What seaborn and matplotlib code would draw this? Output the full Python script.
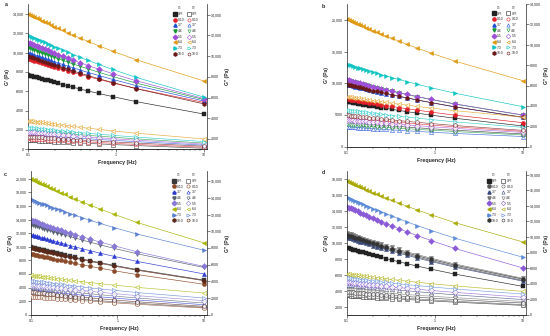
import matplotlib
matplotlib.use("Agg")
import matplotlib.pyplot as plt
import seaborn as sns
from matplotlib.lines import Line2D
from matplotlib.ticker import FixedLocator, FuncFormatter, LogLocator, NullFormatter

sns.set_theme(style="ticks")
plt.rcParams['font.family'] = ['Liberation Sans', 'DejaVu Sans']

# frequency sweep (Hz)
freq = [0.1, 0.105, 0.111, 0.117, 0.125, 0.133, 0.142, 0.153, 0.166, 0.180, 0.198,
        0.220, 0.246, 0.281, 0.326, 0.388, 0.481, 0.631, 0.917, 1.68, 10.0]

ratios = ["SPI", "0:10", "3:7", "4:6", "5:5", "6:4", "7:3", "10:0"]
markers = ["s", "o", "^", "v", "D", "<", ">", "h"]

colors_ab = ["#222222", "#e3202a", "#1f4fd6", "#169a3a", "#a050d8", "#e0980f", "#0fc4c4", "#6a1818"]
colors_c = ["#3a3a3a", "#8b4a2a", "#2a3ad0", "#55606e", "#8878d8", "#a6b400", "#5a80d0", "#5a2818"]
colors_d = ["#222222", "#555555", "#3a4a7a", "#777777", "#8a5ad8", "#a8a800", "#5a8ad8", "#333333"]

# ---- panel a ----
a_storage = [
    [7690, 7630, 7580, 7510, 7440, 7370, 7300, 7210, 7120, 7030, 6930, 6820, 6700, 6570, 6420, 6240, 6030, 5780, 5450, 4940, 3650],
    [9380, 9320, 9260, 9180, 9100, 9020, 8940, 8850, 8750, 8640, 8520, 8410, 8270, 8120, 7950, 7750, 7520, 7240, 6870, 6300, 4850],
    [10000, 9930, 9870, 9780, 9700, 9610, 9520, 9410, 9300, 9190, 9060, 8930, 8780, 8610, 8430, 8210, 7950, 7640, 7230, 6600, 5000],
    [10520, 10450, 10380, 10280, 10190, 10100, 10000, 9890, 9770, 9650, 9510, 9370, 9200, 9030, 8830, 8590, 8320, 7980, 7540, 6860, 5150],
    [11040, 10960, 10880, 10780, 10690, 10580, 10480, 10360, 10230, 10100, 9950, 9800, 9620, 9430, 9220, 8960, 8670, 8300, 7830, 7100, 5250],
    [14000, 13900, 13810, 13690, 13580, 13450, 13330, 13180, 13030, 12870, 12690, 12510, 12300, 12070, 11820, 11510, 11160, 10720, 10150, 9280, 7070],
    [11830, 11740, 11660, 11540, 11440, 11320, 11210, 11070, 10930, 10780, 10620, 10450, 10260, 10040, 9810, 9520, 9190, 8790, 8260, 7450, 5400],
    [9660, 9590, 9530, 9440, 9360, 9270, 9180, 9080, 8970, 8850, 8720, 8590, 8450, 8280, 8100, 7880, 7630, 7310, 6910, 6280, 4700],
]
a_loss = [
    [1900, 1890, 1880, 1860, 1850, 1840, 1820, 1810, 1790, 1770, 1750, 1730, 1700, 1680, 1650, 1610, 1570, 1520, 1460, 1360, 1100],
    [2060, 2050, 2040, 2020, 2010, 1990, 1980, 1960, 1940, 1920, 1900, 1880, 1850, 1820, 1790, 1750, 1710, 1650, 1580, 1470, 1200],
    [2450, 2440, 2420, 2400, 2390, 2370, 2350, 2330, 2300, 2280, 2250, 2220, 2190, 2160, 2120, 2070, 2020, 1950, 1870, 1740, 1400],
    [2870, 2850, 2840, 2810, 2790, 2770, 2750, 2720, 2690, 2660, 2630, 2600, 2560, 2520, 2470, 2410, 2350, 2270, 2170, 2010, 1600],
    [2680, 2660, 2650, 2630, 2610, 2590, 2570, 2540, 2520, 2490, 2460, 2430, 2390, 2350, 2310, 2260, 2200, 2120, 2030, 1880, 1500],
    [3760, 3740, 3710, 3680, 3650, 3620, 3590, 3550, 3510, 3470, 3430, 3380, 3330, 3270, 3210, 3130, 3040, 2930, 2780, 2560, 2000],
    [3090, 3070, 3050, 3030, 3010, 2980, 2960, 2930, 2900, 2870, 2840, 2800, 2760, 2720, 2670, 2610, 2540, 2460, 2350, 2180, 1750],
    [2230, 2220, 2200, 2190, 2170, 2160, 2140, 2120, 2100, 2080, 2050, 2030, 2000, 1970, 1940, 1900, 1850, 1790, 1710, 1600, 1300],
]

# ---- panel b ----
b_storage = [
    [7100, 7050, 7000, 6930, 6870, 6800, 6730, 6650, 6560, 6480, 6380, 6280, 6160, 6040, 5890, 5730, 5530, 5290, 4970, 4490, 3270],
    [7520, 7470, 7420, 7350, 7290, 7230, 7160, 7080, 7000, 6910, 6820, 6720, 6610, 6480, 6350, 6180, 5990, 5760, 5450, 4980, 3790],
    [9800, 9730, 9660, 9570, 9480, 9390, 9300, 9190, 9080, 8960, 8820, 8690, 8530, 8360, 8170, 7940, 7680, 7350, 6930, 6270, 4620],
    [10480, 10400, 10330, 10230, 10140, 10050, 9950, 9830, 9710, 9580, 9440, 9300, 9130, 8950, 8750, 8510, 8230, 7880, 7430, 6730, 4980],
    [10520, 10440, 10370, 10270, 10180, 10080, 9990, 9870, 9750, 9620, 9480, 9330, 9170, 8990, 8780, 8540, 8260, 7910, 7460, 6760, 5000],
    [20140, 20000, 19880, 19700, 19550, 19370, 19200, 18990, 18780, 18550, 18300, 18050, 17760, 17440, 17080, 16650, 16150, 15540, 14740, 13510, 10410],
    [13000, 12910, 12820, 12700, 12590, 12470, 12350, 12210, 12060, 11910, 11740, 11560, 11360, 11140, 10890, 10600, 10260, 9840, 9290, 8440, 6310],
    [9840, 9770, 9700, 9610, 9520, 9430, 9340, 9230, 9110, 8990, 8860, 8720, 8570, 8390, 8200, 7970, 7710, 7380, 6950, 6300, 4640],
]
b_loss = [
    [2400, 2380, 2370, 2350, 2330, 2310, 2290, 2260, 2240, 2210, 2180, 2150, 2120, 2080, 2040, 1990, 1930, 1860, 1760, 1620, 1250],
    [2900, 2880, 2860, 2840, 2820, 2790, 2760, 2740, 2700, 2670, 2640, 2600, 2560, 2510, 2460, 2400, 2330, 2240, 2120, 1950, 1500],
    [1950, 1940, 1920, 1910, 1890, 1880, 1860, 1840, 1820, 1800, 1770, 1750, 1720, 1690, 1650, 1610, 1560, 1500, 1420, 1300, 1000],
    [2200, 2190, 2170, 2150, 2140, 2120, 2100, 2080, 2050, 2030, 2000, 1970, 1940, 1910, 1870, 1820, 1770, 1700, 1620, 1490, 1150],
    [2650, 2630, 2620, 2590, 2570, 2550, 2530, 2500, 2480, 2450, 2410, 2380, 2340, 2300, 2260, 2200, 2140, 2060, 1960, 1800, 1400],
    [4900, 4870, 4850, 4810, 4780, 4740, 4710, 4660, 4620, 4570, 4520, 4470, 4410, 4340, 4270, 4180, 4080, 3950, 3790, 3540, 2900],
    [3600, 3580, 3550, 3520, 3500, 3470, 3440, 3400, 3360, 3320, 3280, 3230, 3180, 3130, 3060, 2990, 2900, 2800, 2660, 2440, 1900],
    [3100, 3080, 3060, 3030, 3010, 2980, 2950, 2920, 2890, 2860, 2820, 2780, 2730, 2680, 2630, 2560, 2490, 2390, 2270, 2080, 1600],
]

# ---- panel c ----
c_storage = [
    [9950, 9880, 9820, 9730, 9650, 9570, 9480, 9380, 9270, 9160, 9030, 8910, 8760, 8600, 8420, 8210, 7960, 7660, 7260, 6650, 5100],
    [8950, 8890, 8830, 8750, 8680, 8600, 8520, 8420, 8320, 8220, 8110, 7990, 7860, 7710, 7540, 7350, 7120, 6840, 6470, 5910, 4480],
    [11790, 11710, 11630, 11530, 11440, 11330, 11230, 11110, 10980, 10850, 10700, 10550, 10370, 10180, 9970, 9710, 9420, 9050, 8580, 7850, 6000],
    [13270, 13180, 13100, 12990, 12880, 12770, 12660, 12520, 12390, 12240, 12080, 11910, 11720, 11510, 11280, 11000, 10680, 10280, 9760, 8970, 6950],
    [13910, 13820, 13730, 13600, 13500, 13370, 13250, 13110, 12960, 12800, 12620, 12450, 12240, 12020, 11770, 11470, 11120, 10690, 10130, 9270, 7100],
    [20000, 19870, 19750, 19580, 19430, 19260, 19090, 18890, 18680, 18460, 18220, 17970, 17690, 17380, 17030, 16620, 16130, 15540, 14770, 13580, 10570],
    [16950, 16850, 16750, 16610, 16500, 16360, 16230, 16070, 15910, 15730, 15540, 15350, 15120, 14880, 14600, 14270, 13890, 13420, 12810, 11870, 9490],
    [9830, 9760, 9700, 9610, 9540, 9450, 9360, 9260, 9160, 9040, 8920, 8790, 8650, 8490, 8310, 8100, 7850, 7550, 7160, 6550, 5010],
]
c_loss = [
    [2400, 2380, 2360, 2330, 2310, 2280, 2250, 2220, 2190, 2150, 2110, 2070, 2030, 1980, 1920, 1850, 1780, 1680, 1560, 1370, 880],
    [2200, 2180, 2160, 2140, 2120, 2090, 2060, 2040, 2000, 1970, 1940, 1900, 1860, 1810, 1760, 1700, 1630, 1540, 1420, 1250, 800],
    [2990, 2970, 2940, 2910, 2880, 2850, 2820, 2780, 2740, 2700, 2650, 2610, 2550, 2490, 2430, 2350, 2260, 2140, 2000, 1770, 1200],
    [3280, 3250, 3230, 3200, 3170, 3130, 3100, 3060, 3020, 2970, 2930, 2880, 2820, 2760, 2690, 2610, 2510, 2390, 2240, 2000, 1400],
    [3590, 3560, 3540, 3500, 3470, 3440, 3410, 3370, 3320, 3280, 3230, 3180, 3120, 3060, 2990, 2900, 2810, 2690, 2530, 2290, 1680],
    [4720, 4690, 4660, 4630, 4590, 4550, 4510, 4470, 4420, 4370, 4320, 4260, 4200, 4130, 4050, 3960, 3850, 3720, 3540, 3280, 2600],
    [4070, 4040, 4010, 3980, 3940, 3910, 3870, 3830, 3780, 3730, 3680, 3630, 3560, 3500, 3420, 3330, 3220, 3090, 2920, 2660, 2000],
    [2720, 2700, 2670, 2640, 2620, 2580, 2550, 2520, 2480, 2440, 2400, 2350, 2300, 2240, 2180, 2100, 2020, 1910, 1770, 1550, 1000],
]

# ---- panel d ----
d_storage = [
    [9380, 9310, 9250, 9170, 9090, 9000, 8920, 8820, 8710, 8600, 8480, 8350, 8210, 8050, 7870, 7660, 7420, 7120, 6730, 6130, 4600],
    [10850, 10770, 10700, 10600, 10510, 10420, 10320, 10200, 10080, 9950, 9810, 9670, 9500, 9320, 9120, 8880, 8600, 8250, 7800, 7100, 5350],
    [10700, 10620, 10550, 10460, 10370, 10270, 10170, 10060, 9940, 9810, 9670, 9530, 9370, 9190, 8980, 8740, 8470, 8120, 7680, 6990, 5250],
    [11200, 11120, 11050, 10950, 10860, 10760, 10660, 10540, 10420, 10290, 10140, 10000, 9830, 9640, 9440, 9190, 8900, 8550, 8090, 7390, 5600],
    [14510, 14400, 14300, 14170, 14050, 13910, 13770, 13610, 13440, 13270, 13070, 12870, 12640, 12390, 12110, 11770, 11390, 10910, 10280, 9320, 6890],
    [17670, 17560, 17470, 17330, 17210, 17070, 16940, 16780, 16610, 16440, 16240, 16050, 15820, 15570, 15290, 14960, 14570, 14100, 13480, 12530, 10120],
    [15680, 15580, 15480, 15340, 15230, 15090, 14960, 14800, 14640, 14460, 14270, 14080, 13850, 13610, 13330, 13000, 12620, 12150, 11540, 10600, 8220],
    [11000, 10920, 10850, 10750, 10660, 10570, 10470, 10350, 10230, 10100, 9960, 9820, 9650, 9470, 9270, 9030, 8750, 8400, 7950, 7250, 5500],
]
d_loss = [
    [2490, 2470, 2460, 2430, 2410, 2390, 2370, 2340, 2310, 2280, 2250, 2210, 2170, 2130, 2080, 2030, 1960, 1880, 1770, 1610, 1200],
    [2660, 2640, 2620, 2600, 2580, 2550, 2530, 2500, 2470, 2440, 2400, 2370, 2330, 2280, 2230, 2170, 2100, 2020, 1910, 1730, 1300],
    [3860, 3830, 3810, 3770, 3740, 3710, 3680, 3640, 3590, 3550, 3500, 3450, 3390, 3330, 3260, 3170, 3080, 2960, 2800, 2560, 1950],
    [3220, 3200, 3180, 3150, 3130, 3100, 3070, 3040, 3010, 2970, 2930, 2890, 2850, 2800, 2740, 2670, 2600, 2500, 2380, 2190, 1700],
    [4200, 4170, 4150, 4110, 4080, 4050, 4010, 3970, 3930, 3880, 3830, 3780, 3720, 3660, 3590, 3500, 3400, 3280, 3120, 2870, 2250],
    [5230, 5200, 5170, 5130, 5090, 5050, 5010, 4970, 4920, 4870, 4810, 4750, 4680, 4610, 4530, 4430, 4320, 4180, 3990, 3710, 3000],
    [4720, 4690, 4660, 4630, 4590, 4560, 4520, 4480, 4430, 4380, 4330, 4280, 4210, 4150, 4070, 3980, 3870, 3740, 3570, 3310, 2650],
    [2920, 2900, 2880, 2860, 2830, 2810, 2780, 2750, 2720, 2690, 2650, 2620, 2570, 2530, 2470, 2410, 2340, 2250, 2130, 1950, 1500],
]


def num_fmt(v, pos):
    return f"{v:,.0f}" if v >= 10000 else f"{v:.0f}"


def style_axis(ax, ax2, yticks, y2ticks):
    ax.set_xscale("log")
    ax.set_xlim(0.1, 10.8)
    ax.xaxis.set_major_locator(FixedLocator([0.1, 1, 10]))
    ax.xaxis.set_major_formatter(FuncFormatter(lambda v, p: f"{v:g}"))
    ax.xaxis.set_minor_locator(LogLocator(base=10, subs=range(2, 10)))
    ax.xaxis.set_minor_formatter(NullFormatter())
    ax.yaxis.set_major_locator(FixedLocator(yticks))
    ax.yaxis.set_major_formatter(FuncFormatter(num_fmt))
    ax2.yaxis.set_major_locator(FixedLocator(y2ticks))
    ax2.yaxis.set_major_formatter(FuncFormatter(num_fmt))
    for a in (ax, ax2):
        a.spines["top"].set_visible(False)
        for s in a.spines.values():
            s.set_linewidth(0.5)
        a.tick_params(which="major", direction="out", length=2, width=0.4, labelsize=2.6, pad=1)
        a.tick_params(which="minor", direction="out", length=1.2, width=0.3)
    ax.spines["right"].set_visible(False)
    ax2.spines["left"].set_visible(False)
    ax.set_xlabel("Frequency (Hz)", fontsize=3.8, fontweight="bold", labelpad=2)
    ax.set_ylabel("G' (Pa)", fontsize=3.6, fontweight="bold", labelpad=2)
    ax2.set_ylabel("G'' (Pa)", fontsize=3.6, fontweight="bold", labelpad=2)


def add_legend(ax, colors, right, with_lines):
    ls = "-" if with_lines else "none"
    blank = lambda t: Line2D([], [], ls="none", marker="", label=t)
    filled = [Line2D([], [], ls=ls, lw=0.4, marker=m, color=c, ms=2.3, mec=c, label=r)
              for r, m, c in zip(ratios, markers, colors)]
    hollow = [Line2D([], [], ls=ls, lw=0.4, marker=m, color=c, ms=2.3, mfc="white", mec=c, mew=0.4, label=r)
              for r, m, c in zip(ratios, markers, colors)]
    ax.legend(handles=[blank("G'")] + filled + [blank("G''")] + hollow, ncol=2,
              loc="upper right", bbox_to_anchor=(right, 1.0), frameon=False,
              fontsize=2.4, handlelength=1.0, handletextpad=0.4, columnspacing=0.9,
              labelspacing=0.5, borderpad=0.1)


panels = [
    ("a", a_storage, a_loss, colors_ab, [0.0515, 0.5557, 0.3244, 0.4313], (0, 15000), (1000, 15000),
     list(range(0, 14001, 2000)), list(range(2000, 14001, 2000)), 0.965, False, (5, 5)),
    ("b", b_storage, b_loss, colors_ab, [0.6304, 0.5634, 0.3255, 0.4247], (0, 22500), (0, 14000),
     list(range(0, 20001, 5000)), list(range(0, 14001, 2000)), 0.968, False, (322, 6)),
    ("c", c_storage, c_loss, colors_c, [0.0564, 0.0634, 0.3195, 0.4268], (0, 21100), (0, 17200),
     list(range(0, 20001, 2000)), list(range(0, 16001, 2000)), 0.962, True, (4, 174)),
    ("d", d_storage, d_loss, colors_d, [0.6304, 0.0634, 0.3255, 0.4268], (1080, 18900), (0, 18450),
     list(range(2000, 18001, 2000)), list(range(0, 18001, 2000)), 0.94, False, (322, 173)),
]

fig = plt.figure(figsize=(5.5, 3.36), dpi=100)
fig.patch.set_facecolor("white")

for letter, storage, loss, colors, pos, ylim, y2lim, yticks, y2ticks, leg_right, leg_lines, lpos in panels:
    ax = fig.add_axes(pos)
    ax2 = ax.twinx()
    ax.set_facecolor("white")
    # G'' as hollow markers on the right axis
    for vals, m, c in zip(loss, markers, colors):
        sns.lineplot(x=freq, y=vals, ax=ax2, color=c, lw=0.45, marker=m, ms=3.0,
                     mfc="white", mec=c, mew=0.45, alpha=0.8)
    # G' as filled markers on the left axis
    for vals, m, c in zip(storage, markers, colors):
        sns.lineplot(x=freq, y=vals, ax=ax, color=c, lw=0.45, marker=m, ms=3.0,
                     mfc=c, mec=c, mew=0.3)
    ax.set_ylim(*ylim)
    ax2.set_ylim(*y2lim)
    style_axis(ax, ax2, yticks, y2ticks)
    add_legend(ax2, colors, leg_right, leg_lines)
    fig.text(lpos[0] / 550, 1 - lpos[1] / 336, letter, fontsize=3.8, fontweight="bold",
             ha="left", va="center")

fig.savefig("out.png", dpi=100, facecolor="white")
